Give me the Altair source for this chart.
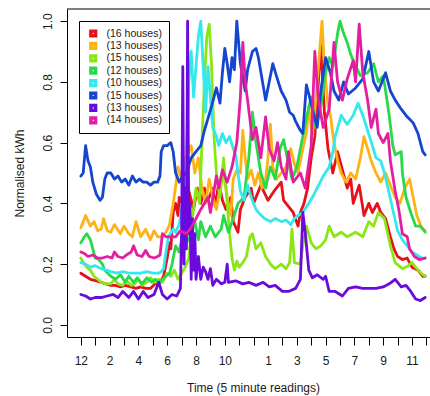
import altair as alt
import pandas as pd

# Normalised consumption per group of houses: (5-minute reading, normalised kWh)
red_16 = [(0,0.17),(4,0.16),(8,0.15),(13,0.145),(17,0.14),(21,0.135),(25,0.13),(29,0.13),(33,0.125),(37,0.13),
          (42,0.125),(46,0.12),(50,0.125),(54,0.12),(58,0.12),(62,0.135),(66,0.14),(69,0.16),(72,0.22),(74,0.27),
          (75,0.25),(77,0.37),(79,0.40),(81,0.36),(82,0.42),(86,0.39),(90,0.44),(94,0.38),(97,0.45),(100,0.40),
          (103,0.45),(106,0.41),(110,0.45),(112,0.39),(115,0.47),(118,0.41),(121,0.38),(125,0.42),(127,0.34),(131,0.305),
          (133,0.38),(137,0.42),(142,0.45),(144,0.40),(150,0.46),(156,0.41),(161,0.44),(167,0.47),(169,0.41),(173,0.39),
          (177,0.37),(181,0.325),(183,0.37),(186,0.40),(189,0.45),(192,0.55),(195,0.62),(198,0.80),(200,0.92),(203,0.70),
          (206,0.58),(210,0.50),(214,0.57),(218,0.51),(222,0.45),(225,0.48),(227,0.40),(232,0.46),(236,0.36),(240,0.40),
          (243,0.37),(247,0.40),(250,0.37),(254,0.35),(258,0.29),(261,0.25),(264,0.225),(268,0.215),(272,0.22),(276,0.19),
          (281,0.18),(285,0.16),(287,0.16)]

orange_13 = [(0,0.32),(4,0.36),(8,0.325),(11,0.34),(14,0.31),(17,0.315),(19,0.35),(22,0.31),(25,0.305),(28,0.33),
             (33,0.30),(36,0.325),(40,0.30),(43,0.29),(46,0.34),(50,0.29),(54,0.315),(58,0.28),(61,0.31),(64,0.29),
             (67,0.29),(71,0.305),(74,0.33),(77,0.40),(79,0.455),(81,0.52),(84,0.48),(87,0.55),(92,0.59),(95,0.50),
             (98,0.55),(101,0.45),(104,0.40),(107,0.48),(110,0.42),(113,0.38),(116,0.45),(119,0.50),(122,0.42),(125,0.36),
             (127,0.48),(130,0.51),(133,0.50),(135,0.64),(137,0.55),(139,0.48),(142,0.51),(145,0.46),(148,0.50),(151,0.45),
             (154,0.48),(156,0.55),(158,0.66),(160,0.52),(163,0.48),(167,0.50),(171,0.52),(175,0.58),(178,0.53),(181,0.50),
             (185,0.58),(188,0.63),(190,0.72),(193,0.62),(196,0.75),(199,0.90),(201,1.0),(203,0.85),(206,0.72),(208,0.69),
             (211,0.60),(214,0.54),(217,0.50),(221,0.47),(225,0.50),(229,0.48),(233,0.55),(236,0.62),(239,0.58),(242,0.54),
             (246,0.50),(250,0.47),(254,0.50),(258,0.46),(262,0.42),(266,0.40),(270,0.45),(274,0.48),(277,0.42),(280,0.36),
             (284,0.32),(287,0.31)]

lime_15 = [(0,0.22),(3,0.20),(5,0.19),(8,0.18),(11,0.16),(14,0.15),(17,0.14),(21,0.135),(25,0.135),(28,0.15),
           (31,0.135),(35,0.13),(38,0.145),(42,0.13),(45,0.135),(48,0.15),(51,0.13),(55,0.14),(58,0.155),(62,0.14),
           (65,0.15),(68,0.14),(72,0.17),(75,0.16),(78,0.18),(81,0.15),(84,0.17),(87,0.19),(90,0.22),(93,0.35),
           (96,0.45),(99,0.40),(101,0.60),(103,0.80),(105,0.95),(107,0.99),(109,0.85),(111,0.62),(113,0.50),(116,0.42),
           (119,0.55),(122,0.40),(124,0.30),(126,0.22),(128,0.18),(130,0.21),(132,0.19),(135,0.205),(138,0.225),(141,0.29),
           (143,0.30),(146,0.25),(150,0.27),(154,0.225),(158,0.20),(162,0.185),(167,0.20),(171,0.185),(174,0.205),(176,0.315),
           (178,0.205),(183,0.20),(185,0.26),(188,0.325),(192,0.27),(196,0.25),(200,0.26),(204,0.28),(207,0.325),(211,0.29),
           (217,0.305),(222,0.29),(229,0.305),(235,0.29),(240,0.34),(244,0.325),(248,0.37),(253,0.35),(258,0.26),(262,0.205),
           (268,0.185),(273,0.195),(276,0.205),(280,0.185),(285,0.165),(287,0.16)]

green_12 = [(0,0.27),(3,0.29),(5,0.30),(8,0.28),(10,0.25),(12,0.22),(15,0.215),(18,0.20),(20,0.18),(25,0.16),
            (29,0.15),(33,0.165),(37,0.14),(40,0.16),(44,0.14),(47,0.155),(51,0.135),(55,0.155),(59,0.14),(62,0.15),
            (65,0.14),(68,0.15),(71,0.16),(74,0.17),(76,0.20),(79,0.26),(82,0.24),(85,0.30),(88,0.27),(92,0.30),
            (95,0.34),(98,0.28),(100,0.34),(104,0.29),(108,0.325),(112,0.29),(117,0.315),(119,0.36),(123,0.305),(127,0.35),
            (131,0.40),(136,0.42),(140,0.55),(143,0.70),(146,0.60),(150,0.50),(154,0.45),(158,0.52),(162,0.48),(166,0.58),
            (169,0.61),(172,0.55),(176,0.48),(180,0.52),(184,0.60),(188,0.68),(192,0.75),(196,0.65),(200,0.72),(204,0.83),
            (207,0.88),(210,0.85),(214,0.96),(216,1.0),(219,0.96),(222,0.93),(225,0.89),(227,0.87),(233,0.82),(239,0.83),
            (244,0.86),(248,0.80),(252,0.82),(254,0.77),(257,0.69),(260,0.59),(262,0.56),(267,0.57),(268,0.50),(271,0.42),
            (275,0.37),(279,0.325),(283,0.325),(287,0.305)]

cyan_10 = [(0,0.205),(4,0.20),(8,0.19),(12,0.195),(17,0.185),(21,0.18),(25,0.175),(30,0.17),(35,0.175),(40,0.17),
           (45,0.17),(50,0.17),(55,0.175),(60,0.17),(65,0.17),(67,0.175),(69,0.185),(71,0.24),(73,0.29),(77,0.315),
           (79,0.305),(82,0.33),(85,0.40),(88,0.55),(90,0.80),(92,0.90),(94,0.75),(96,0.85),(98,0.95),(100,1.0),
           (102,0.85),(104,0.70),(106,0.85),(108,0.75),(110,0.65),(113,0.62),(115,0.59),(118,0.63),(121,0.60),(124,0.62),
           (127,0.58),(129,0.56),(131,0.50),(133,0.44),(136,0.41),(139,0.46),(142,0.42),(146,0.38),(148,0.37),(153,0.35),
           (158,0.34),(162,0.35),(167,0.34),(171,0.345),(175,0.33),(178,0.35),(181,0.36),(185,0.37),(190,0.40),(193,0.42),
           (197,0.45),(202,0.49),(207,0.52),(210,0.57),(212,0.62),(217,0.69),(222,0.66),(227,0.69),(231,0.73),(235,0.69),
           (239,0.64),(243,0.59),(246,0.55),(250,0.54),(253,0.50),(256,0.45),(260,0.38),(264,0.31),(268,0.28),(272,0.26),
           (276,0.24),(280,0.23),(284,0.22),(287,0.22)]

blue_15 = [(0,0.49),(2,0.50),(4,0.59),(6,0.54),(8,0.52),(10,0.47),(13,0.43),(16,0.41),(18,0.42),(20,0.48),
           (22,0.50),(25,0.50),(28,0.48),(31,0.49),(34,0.47),(37,0.48),(40,0.46),(43,0.49),(46,0.47),(49,0.48),
           (52,0.47),(55,0.47),(58,0.46),(61,0.47),(64,0.47),(66,0.49),(67,0.57),(69,0.59),(72,0.59),(75,0.60),
           (77,0.57),(79,0.50),(82,0.47),(85,0.49),(88,0.50),(92,0.55),(96,0.57),(100,0.59),(103,0.64),(106,0.68),
           (109,0.72),(113,0.78),(116,0.73),(118,0.83),(120,0.91),(122,0.86),(124,0.80),(126,0.88),(128,0.84),(130,1.0),
           (133,0.86),(137,0.77),(139,0.84),(143,0.90),(146,0.91),(148,0.88),(151,0.81),(154,0.74),(157,0.80),(160,0.86),
           (163,0.82),(167,0.77),(171,0.74),(174,0.70),(177,0.69),(179,0.67),(183,0.64),(185,0.63),(188,0.79),(190,0.76),
           (193,0.71),(197,0.65),(200,0.77),(204,0.88),(208,0.83),(211,0.77),(215,0.74),(219,0.80),(223,0.76),(229,0.78),
           (235,0.81),(240,0.90),(244,0.80),(248,0.77),(254,0.83),(258,0.77),(262,0.74),(267,0.71),(272,0.685),(277,0.665),
           (281,0.63),(285,0.57),(287,0.56)]

purple_13 = [(0,0.10),(4,0.095),(8,0.085),(12,0.09),(17,0.09),(22,0.095),(27,0.10),(31,0.09),(35,0.11),(40,0.09),
             (44,0.11),(48,0.085),(52,0.11),(56,0.09),(61,0.10),(65,0.14),(68,0.10),(72,0.085),(76,0.10),(80,0.095),
             (83,0.12),(84,0.30),(85,0.85),(86,0.20),(87,0.45),(88,0.25),(89,1.0),(90,0.30),(91,0.40),(92,0.15),
             (93,0.35),(94,0.18),(95,0.30),(96,0.15),(98,0.225),(100,0.15),(102,0.19),(104,0.175),(106,0.15),(108,0.185),
             (110,0.13),(113,0.15),(117,0.135),(120,0.14),(122,0.20),(123,0.14),(129,0.145),(135,0.135),(140,0.14),(146,0.13),
             (152,0.14),(157,0.125),(162,0.13),(168,0.11),(173,0.11),(179,0.12),(183,0.15),(185,0.37),(187,0.305),(190,0.18),
             (193,0.155),(197,0.165),(202,0.15),(204,0.16),(207,0.11),(212,0.11),(218,0.095),(223,0.12),(229,0.125),(235,0.12),
             (240,0.12),(246,0.12),(252,0.125),(257,0.135),(262,0.15),(267,0.125),(271,0.13),(275,0.11),(279,0.085),(283,0.08),
             (287,0.09)]

magenta_14 = [(0,0.24),(3,0.235),(6,0.225),(10,0.23),(14,0.22),(18,0.22),(22,0.225),(26,0.22),(28,0.24),(31,0.225),
              (35,0.22),(38,0.23),(42,0.24),(44,0.26),(47,0.23),(51,0.225),(54,0.245),(57,0.225),(61,0.22),(64,0.225),
              (66,0.23),(68,0.30),(71,0.29),(75,0.29),(79,0.29),(83,0.31),(88,0.30),(92,0.32),(96,0.35),(100,0.38),
              (106,0.42),(108,0.37),(113,0.49),(115,0.45),(118,0.51),(122,0.47),(126,0.52),(130,0.60),(133,0.75),(135,0.93),
              (137,0.80),(139,0.74),(141,0.675),(143,0.61),(146,0.65),(150,0.55),(154,0.685),(157,0.58),(161,0.54),(164,0.60),
              (167,0.52),(171,0.48),(173,0.57),(177,0.47),(183,0.50),(187,0.45),(192,0.59),(195,0.90),(198,0.74),(202,0.65),
              (207,0.71),(211,0.93),(214,0.80),(218,0.74),(222,0.81),(227,0.87),(229,0.80),(232,0.99),(235,0.83),(239,0.74),
              (242,0.65),(246,0.71),(248,0.63),(252,0.60),(256,0.63),(258,0.54),(262,0.44),(265,0.38),(268,0.30),(272,0.29),
              (274,0.25),(278,0.225),(282,0.215),(287,0.22)]

series_ids = ["g1", "g2", "g3", "g4", "g5", "g6", "g7", "g8"]
series_labels = ["(16 houses)", "(13 houses)", "(15 houses)", "(12 houses)",
                 "(10 houses)", "(15 houses)", "(13 houses)", "(14 houses)"]
series_colors = ["#E8101A", "#FDB316", "#8AE614", "#28DA4A",
                 "#34E8EC", "#1646D0", "#6A0ADC", "#E41EA0"]
series_points = [red_16, orange_13, lime_15, green_12, cyan_10, blue_15, purple_13, magenta_14]

# hourly ticks (12 readings per hour), labelled as on a 12-hour clock
hour_ticks = list(range(0, 289, 12))
hour_labels = ["12", "", "2", "", "4", "", "6", "", "8", "", "10", "", "",
               "1", "", "3", "", "5", "", "7", "", "9", "", "11", ""]
kwh_ticks = [0.0, 0.2, 0.4, 0.6, 0.8, 1.0]

rows = []
for sid, pts in zip(series_ids, series_points):
    for reading, kwh in pts:
        rows.append({"series": sid, "reading": reading, "kwh": kwh})
df = pd.DataFrame(rows)

FONT = "Liberation Sans"
INK = "#1a1a1a"
PLOT_W, PLOT_H = 363, 328

hour_expr = "[" + ",".join(f"'{h}'" for h in hour_labels) + "][round(datum.value / 12)]"
ids_js = "[" + ",".join(f"'{s}'" for s in series_ids) + "]"
labels_js = "[" + ",".join(f"'{s}'" for s in series_labels) + "]"
legend_expr = f"{labels_js}[indexof({ids_js}, datum.value)]"

x_enc = alt.X(
    "reading:Q",
    scale=alt.Scale(domain=[-11.5, 291], nice=False, zero=False),
    axis=alt.Axis(
        values=hour_ticks, labelExpr=hour_expr, grid=False,
        tickSize=8, labelPadding=19, labelBaseline="alphabetic", labelAlign="center",
        labelAngle=0, labelFlush=False, labelOverlap=False,
        title="Time (5 minute readings)", titleX=186, titleY=54,
        titleAlign="center", titleBaseline="alphabetic",
    ),
)
y_enc = alt.Y(
    "kwh:Q",
    scale=alt.Scale(domain=[-0.04, 1.04], nice=False, zero=False),
    axis=alt.Axis(
        values=kwh_ticks, format=".1f", grid=False,
        tickSize=7, labelPadding=9, labelAngle=270, labelAlign="center",
        labelBaseline="alphabetic", labelFlush=False, labelOverlap=False,
        title="Normalised kWh", titleAngle=270, titleX=-43.5, titleY=164,
        titleAlign="center", titleBaseline="alphabetic",
    ),
)

# one line per group; the key uses thick-edged squares so they read as filled blocks
lines = alt.Chart(df).mark_line(
    strokeWidth=2.8, strokeJoin="round", strokeCap="round", clip=True
).encode(
    x=x_enc,
    y=y_enc,
    color=alt.Color(
        "series:N",
        scale=alt.Scale(domain=series_ids, range=series_colors),
        legend=alt.Legend(
            title=None, orient="none", legendX=12, legendY=12,
            symbolType="square", symbolSize=22, symbolStrokeWidth=3.5,
            symbolOffset=2, symbolOpacity=1,
            labelExpr=legend_expr, labelFont=FONT, labelFontSize=10.5, labelColor=INK,
            labelOffset=8, clipHeight=11, rowPadding=1.4, padding=7,
            strokeColor="black", fillColor="white",
        ),
    ),
)

# top edge of the plot frame
frame_top = alt.Chart(pd.DataFrame({"edge": [0]})).mark_rule(color="black", strokeWidth=1).encode(
    x=alt.value(0), x2=alt.value(PLOT_W), y=alt.value(0)
)

chart = alt.layer(lines, frame_top).properties(
    width=PLOT_W,
    height=PLOT_H,
    autosize=alt.AutoSizeParams(type="none"),
    padding={"left": 67, "top": 9, "right": 0, "bottom": 59},
    background="white",
).configure_view(
    stroke=None
).configure_axis(
    domainColor="black", tickColor="black", domainWidth=1, tickWidth=1,
    labelFont=FONT, labelFontSize=12, labelColor=INK,
    titleFont=FONT, titleFontSize=12, titleColor=INK, titleFontWeight="normal",
)

chart.save("out.html", embed_options={"renderer": "svg", "actions": False})
